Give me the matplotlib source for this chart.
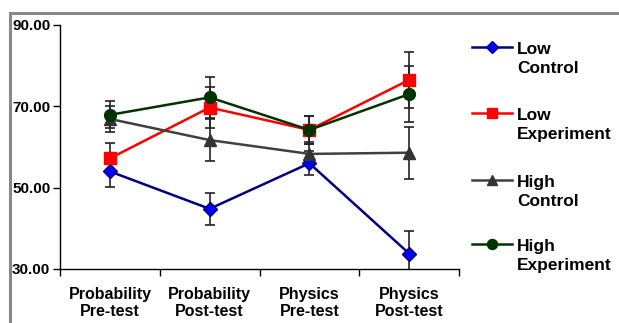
import matplotlib.pyplot as plt
import matplotlib.patches as patches
from matplotlib.lines import Line2D
import numpy as np

plt.rcParams['font.family'] = ['Liberation Sans', 'DejaVu Sans']
plt.rcParams['font.weight'] = 'bold'

# data
categories = ["Probability\nPre-test", "Probability\nPost-test", "Physics\nPre-test", "Physics\nPost-test"]
low_control = [54.0, 44.8, 56.0, 33.8]
low_control_err = [3.9, 3.9, 3.0, 5.6]
low_experiment = [57.2, 69.7, 64.2, 76.5]
low_experiment_err = [3.7, 5.1, 3.5, 6.8]
high_control = [66.9, 61.7, 58.3, 58.6]
high_control_err = [3.3, 5.1, 3.0, 6.4]
high_experiment = [67.9, 72.2, 64.2, 73.0]
high_experiment_err = [3.3, 5.1, 3.5, 6.8]
labels = ["Low\nControl", "Low\nExperiment", "High\nControl", "High\nExperiment"]

series = [low_control, low_experiment, high_control, high_experiment]
errors = [low_control_err, low_experiment_err, high_control_err, high_experiment_err]
line_colors = ["#000080", "#ff0000", "#404040", "#003300"]
face_colors = ["#0000ff", "#ff0000", "#333333", "#003300"]
markers = ["D", "s", "^", "o"]
msizes = [7, 8.5, 9, 8.5]

fig = plt.figure(figsize=(6.19, 3.23), dpi=100)
ax = fig.add_axes([60 / 619, 1 - 269 / 323, 399 / 619, 244 / 323])

x = np.arange(len(categories))
for ys, es, lc, fc, m, ms in zip(series, errors, line_colors, face_colors, markers, msizes):
    ax.errorbar(x, ys, yerr=es, fmt="none", ecolor="#222222", elinewidth=1.2,
                capsize=3.6, capthick=1.2, zorder=2)
    ax.plot(x, ys, color=lc, lw=1.8, marker=m, markersize=ms,
            markerfacecolor=fc, markeredgecolor=lc if m == "D" else fc, zorder=3)

ax.set_xlim(-0.5, 3.5)
ax.set_ylim(30, 90)
ax.set_yticks([30, 50, 70, 90])
ax.set_yticklabels(["%.2f" % v for v in [30, 50, 70, 90]], fontsize=11)
ax.set_xticks(x)
ax.set_xticklabels(categories, fontsize=11.5, linespacing=1.2)
ax.tick_params(axis="x", length=0, pad=13)
ax.set_xticks(np.arange(-0.5, 4, 1), minor=True)
ax.tick_params(axis="x", which="minor", length=5, direction="out", width=1)
ax.tick_params(axis="y", length=5, width=1, pad=2)
for s in ["top", "right"]:
    ax.spines[s].set_visible(False)
for s in ["left", "bottom"]:
    ax.spines[s].set_linewidth(1)

# legend drawn by hand so the handle lines up with the first text line
leg_y = [47, 113, 180, 244]
for yy, lab, lc, fc, m, ms in zip(leg_y, labels, line_colors, face_colors, markers, msizes):
    fy = 1 - yy / 323
    fig.add_artist(Line2D([472 / 619, 512 / 619], [fy, fy], color=lc, lw=1.8))
    fig.add_artist(Line2D([492 / 619], [fy], marker=m, markersize=ms * 0.85,
                          markerfacecolor=fc, markeredgecolor=lc if m == "D" else fc, color=lc))
    fig.text(517 / 619, fy - 26 / 323, lab, fontsize=12.5, va="baseline", ha="left", linespacing=1.35)

# gray frame around the chart area
fig.add_artist(patches.Rectangle((10 / 619, -0.1), 1.2, 1.1 - 13 / 323, transform=fig.transFigure,
                                 fill=False, edgecolor="#888888", lw=2.2))

fig.savefig("out.png", dpi=100)
